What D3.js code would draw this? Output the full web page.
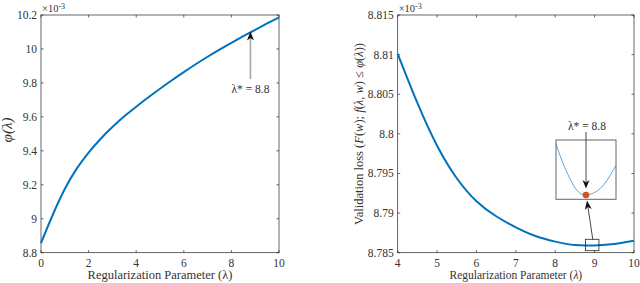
<!DOCTYPE html>
<html><head><meta charset="utf-8">
<script src="https://cdn.jsdelivr.net/npm/d3@7"></script>
<style>body{margin:0;background:#fff}svg{display:block}</style>
</head><body><svg id="c" width="640" height="283" font-family="'Liberation Serif','DejaVu Serif',Times,serif"></svg>
<script>
// Left chart: phi(lambda)
const lamL = [0,0.5,1,1.5,2,2.5,3,3.5,4,4.5,5,5.5,6,6.5,7,7.5,8,8.5,9,9.5,10];
const phiL = [8.857,9.025,9.175,9.295,9.39,9.47,9.54,9.603,9.66,9.714,9.766,9.816,9.864,9.91,9.954,9.996,10.036,10.075,10.113,10.15,10.186];
const xTicksL = [0,2,4,6,8,10];
const yTicksL = [8.8,9,9.2,9.4,9.6,9.8,10,10.2];
// Right chart: validation loss
const lamR = [4,4.5,5,5.5,6,6.5,7,7.5,8,8.5,9,9.5,10];
const lossR = [8.8101,8.8039,8.7985,8.7944,8.7915,8.7896,8.7882,8.7871,8.7864,8.78596,8.78592,8.7861,8.7865];
const xTicksR = [4,5,6,7,8,9,10];
const yTicksR = [8.785,8.79,8.795,8.8,8.805,8.81,8.815];
const lamStar = 8.8;

const svg = d3.select("#c");
const blue = "#0072BD", red = "#D95319", axc = "#262626", txc = "#333";

function panel(o){
  const g = svg.append("g").attr("fill",txc);
  const x = d3.scaleLinear().domain(o.xd).range([o.x0,o.x1]);
  const y = d3.scaleLinear().domain(o.yd).range([o.y1,o.y0]);
  const tl = 2.5;
  g.append("rect").attr("x",o.x0).attr("y",o.y0).attr("width",o.x1-o.x0).attr("height",o.y1-o.y0)
    .attr("fill","none").attr("stroke",axc).attr("stroke-width",0.7);
  o.xt.forEach(v=>{
    g.append("line").attr("x1",x(v)).attr("x2",x(v)).attr("y1",o.y1).attr("y2",o.y1-tl).attr("stroke",axc).attr("stroke-width",0.7);
    g.append("line").attr("x1",x(v)).attr("x2",x(v)).attr("y1",o.y0).attr("y2",o.y0+tl).attr("stroke",axc).attr("stroke-width",0.7);
    g.append("text").attr("x",x(v)).attr("y",o.y1+14).attr("text-anchor","middle").attr("font-size",11.5).text(d3.format("~g")(v));
  });
  o.yt.forEach(v=>{
    g.append("line").attr("x1",o.x0).attr("x2",o.x0+tl).attr("y1",y(v)).attr("y2",y(v)).attr("stroke",axc).attr("stroke-width",0.7);
    g.append("line").attr("x1",o.x1).attr("x2",o.x1-tl).attr("y1",y(v)).attr("y2",y(v)).attr("stroke",axc).attr("stroke-width",0.7);
    g.append("text").attr("x",o.x0-4).attr("y",y(v)+4).attr("text-anchor","end").attr("font-size",11.5).text(d3.format("~g")(v));
  });
  const e = g.append("text").attr("x",o.x0+1).attr("y",12).attr("font-size",10.5);
  e.append("tspan").text("×10");
  e.append("tspan").attr("dy",-3.5).attr("font-size",8).text("-3");
  const xl = g.append("text").attr("x",(o.x0+o.x1)/2).attr("y",279).attr("text-anchor","middle").attr("font-size",o.xlfs);
  xl.append("tspan").text("Regularization Parameter (");
  xl.append("tspan").attr("font-style",o.italLam?"italic":null).text("λ");
  xl.append("tspan").text(")");
  return {g,x,y};
}

// LEFT
const L = panel({x0:41,x1:279,y0:15,y1:252.7,xd:[0,10],yd:[8.8,10.2],xt:xTicksL,yt:yTicksL,xlfs:12.5,italLam:false});
L.g.append("path").datum(lamL.map((l,i)=>[l,phiL[i]]))
  .attr("d",d3.line().x(d=>L.x(d[0])).y(d=>L.y(d[1])).curve(d3.curveNatural))
  .attr("fill","none").attr("stroke",blue).attr("stroke-width",2);
{
  L.g.append("text").attr("transform","translate(12,130) rotate(-90)").attr("text-anchor","middle")
    .attr("font-size",15).attr("font-style","italic").text("φ(λ)");
  const ax = L.x(lamStar), ty = 31.5;
  L.g.append("line").attr("x1",ax).attr("x2",ax).attr("y1",79).attr("y2",ty+6).attr("stroke","#a8a8a8").attr("stroke-width",1.6);
  L.g.append("path").attr("d",`M${ax},${ty} L${ax-3.5},${ty+9} L${ax},${ty+6.5} L${ax+3.5},${ty+9} Z`).attr("fill","#111");
  L.g.append("text").attr("x",ax).attr("y",93).attr("text-anchor","middle").attr("font-size",11.5).text("λ* = 8.8");
}

// RIGHT
const R = panel({x0:397.7,x1:634,y0:15,y1:252.7,xd:[4,10],yd:[8.785,8.815],xt:xTicksR,yt:yTicksR,xlfs:11.5,italLam:true});
R.g.append("path").datum(lamR.map((l,i)=>[l,lossR[i]]))
  .attr("d",d3.line().x(d=>R.x(d[0])).y(d=>R.y(d[1])).curve(d3.curveNatural))
  .attr("fill","none").attr("stroke",blue).attr("stroke-width",2);
{
  const t = R.g.append("text").attr("transform","translate(363,134) rotate(-90)").attr("text-anchor","middle").attr("font-size",12.5);
  t.append("tspan").text("Validation loss (");
  t.append("tspan").attr("font-style","italic").text("F");
  t.append("tspan").text("(");
  t.append("tspan").attr("font-style","italic").text("w");
  t.append("tspan").text("); ");
  t.append("tspan").attr("font-style","italic").text("f");
  t.append("tspan").text("(");
  t.append("tspan").attr("font-style","italic").text("λ, w");
  t.append("tspan").text(") ≤ ");
  t.append("tspan").attr("font-style","italic").text("φ");
  t.append("tspan").text("(");
  t.append("tspan").attr("font-style","italic").text("λ");
  t.append("tspan").text("))");

  const rx0 = R.x(8.77), rx1 = R.x(9.11), ry0 = 239.3, ry1 = 250.7;
  R.g.append("rect").attr("x",rx0).attr("y",ry0).attr("width",rx1-rx0).attr("height",ry1-ry0)
    .attr("fill","none").attr("stroke",axc).attr("stroke-width",0.8);
  const ix0=556, ix1=616, iy0=140, iy1=199.3;
  const xi = d3.scaleLinear().domain([7.6,10]).range([ix0,ix1]);
  const yi = d3.scaleLinear().domain([8.78592,8.78695]).range([194,143]);
  svg.append("defs").append("clipPath").attr("id","ic").append("rect").attr("x",ix0).attr("y",iy0).attr("width",ix1-ix0).attr("height",iy1-iy0);
  R.g.append("rect").attr("x",ix0).attr("y",iy0).attr("width",ix1-ix0).attr("height",iy1-iy0).attr("fill","#fff");
  R.g.append("path").datum(lamR.map((l,i)=>[l,lossR[i]]))
    .attr("clip-path","url(#ic)")
    .attr("d",d3.line().x(d=>xi(d[0])).y(d=>yi(d[1])).curve(d3.curveNatural))
    .attr("fill","none").attr("stroke","#4a9be0").attr("stroke-width",0.9);
  R.g.append("rect").attr("x",ix0).attr("y",iy0).attr("width",ix1-ix0).attr("height",iy1-iy0)
    .attr("fill","none").attr("stroke","#666").attr("stroke-width",1);
  const mx = xi(lamStar), my = 195;
  R.g.append("line").attr("x1",mx).attr("x2",mx).attr("y1",132).attr("y2",183).attr("stroke","#333").attr("stroke-width",0.9);
  R.g.append("path").attr("d",`M${mx},${188.5} L${mx-3.5},${180} L${mx},${182.5} L${mx+3.5},${180} Z`).attr("fill","#111");
  R.g.append("circle").attr("cx",mx).attr("cy",my).attr("r",3.3).attr("fill",red);
  R.g.append("text").attr("x",mx+1).attr("y",130).attr("text-anchor","middle").attr("font-size",11.5).text("λ* = 8.8");
  const sx = (rx0+rx1)/2+0.5, sy = ry0, tx = mx+1, tyy = 200.5;
  const ang = Math.atan2(tyy-sy, tx-sx);
  R.g.append("line").attr("x1",sx).attr("y1",sy).attr("x2",tx-6*Math.cos(ang)).attr("y2",tyy-6*Math.sin(ang)).attr("stroke","#333").attr("stroke-width",0.9);
  R.g.append("path").attr("d",`M0,0 L-9,-3.5 L-6.5,0 L-9,3.5 Z`).attr("fill","#111")
    .attr("transform",`translate(${tx},${tyy}) rotate(${ang*180/Math.PI})`);
}
</script></body></html>
